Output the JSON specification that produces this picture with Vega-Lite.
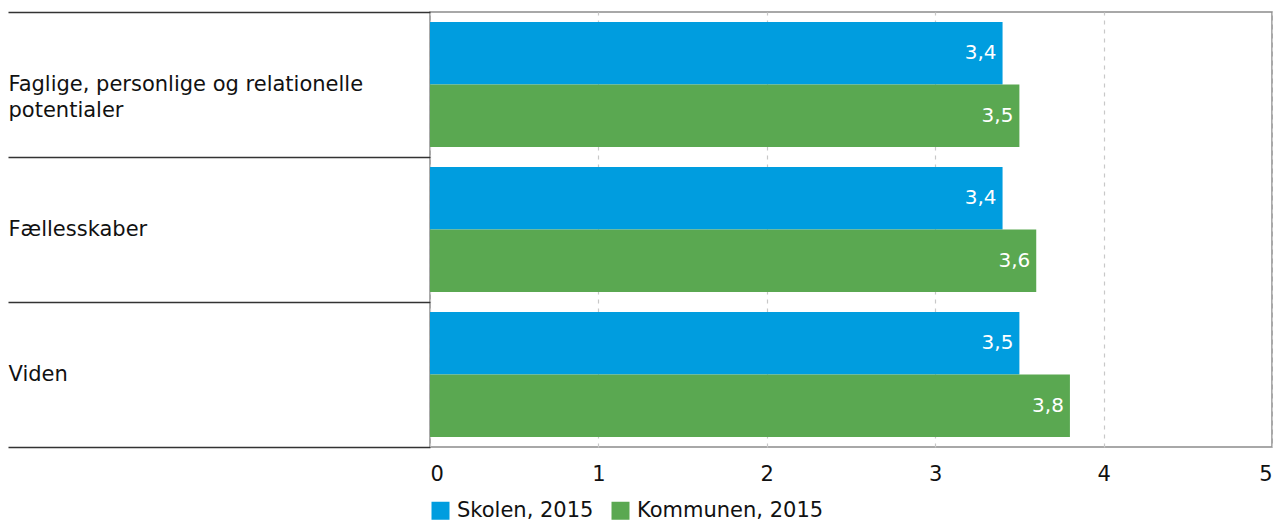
{
  "$schema": "https://vega.github.io/schema/vega-lite/v6.json",
  "width": 842,
  "height": 435,
  "autosize": {"type": "none"},
  "padding": {"left": 430, "top": 12, "right": 1, "bottom": 76},
  "background": "white",
  "title": {
    "text": "3.1.1 Samlet status på kommunale mål- og indsatsområder, skoleniveau",
    "anchor": "start",
    "frame": "bounds",
    "font": "DejaVu Sans",
    "fontSize": 20,
    "fontWeight": "bold",
    "color": "#0099dc",
    "baseline": "alphabetic",
    "offset": 0
  },
  "config": {
    "locale": {"number": {"decimal": ",", "thousands": ".", "grouping": [3], "currency": ["", " kr."]}},
    "font": "DejaVu Sans",
    "view": {"stroke": "#8c8c8c", "strokeWidth": 1.5}
  },
  "data": {
    "values": [
      {"omraade": "Faglige, personlige og relationelle|potentialer", "serie": "Skolen, 2015", "vaerdi": 3.4},
      {"omraade": "Faglige, personlige og relationelle|potentialer", "serie": "Kommunen, 2015", "vaerdi": 3.5},
      {"omraade": "Fællesskaber", "serie": "Skolen, 2015", "vaerdi": 3.4},
      {"omraade": "Fællesskaber", "serie": "Kommunen, 2015", "vaerdi": 3.6},
      {"omraade": "Viden", "serie": "Skolen, 2015", "vaerdi": 3.5},
      {"omraade": "Viden", "serie": "Kommunen, 2015", "vaerdi": 3.8}
    ]
  },
  "encoding": {
    "y": {
      "field": "omraade",
      "type": "nominal",
      "sort": null,
      "scale": {"paddingInner": 0, "paddingOuter": 0},
      "axis": {
        "title": null,
        "domain": false,
        "tickBand": "extent",
        "tickSize": 422,
        "tickColor": "#333333",
        "tickWidth": 1.5,
        "labelAlign": "left",
        "labelPadding": 0,
        "labelBaseline": "middle",
        "labelFontSize": 21,
        "labelLineHeight": 26,
        "labelColor": "#111111",
        "labelLimit": 0,
        "labelExpr": "split(datum.label, '|')"
      }
    },
    "yOffset": {
      "field": "serie",
      "type": "nominal",
      "sort": ["Skolen, 2015", "Kommunen, 2015"],
      "scale": {"paddingInner": 0, "paddingOuter": 0.159}
    },
    "x": {
      "field": "vaerdi",
      "type": "quantitative",
      "scale": {"domain": [0, 5], "nice": false},
      "axis": {
        "title": null,
        "values": [0, 1, 2, 3, 4, 5],
        "grid": true,
        "gridColor": "#c8c8c8",
        "gridDash": [4, 5],
        "gridWidth": 1.2,
        "domain": false,
        "ticks": false,
        "labelPadding": 16,
        "labelFlush": true,
        "labelFontSize": 21,
        "labelColor": "#111111"
      }
    }
  },
  "layer": [
    {
      "mark": {"type": "bar"},
      "encoding": {
        "color": {
          "field": "serie",
          "type": "nominal",
          "sort": ["Skolen, 2015", "Kommunen, 2015"],
          "scale": {"domain": ["Skolen, 2015", "Kommunen, 2015"], "range": ["#009ddf", "#5aa851"]},
          "legend": {
            "title": null,
            "orient": "bottom",
            "direction": "horizontal",
            "symbolType": "square",
            "symbolSize": 324,
            "symbolStrokeWidth": 0,
            "symbolOpacity": 1,
            "labelFontSize": 21,
            "labelColor": "#111111",
            "labelLimit": 400,
            "labelOffset": 6,
            "columnPadding": 16,
            "offset": 16
          }
        }
      }
    },
    {
      "mark": {"type": "text", "align": "right", "baseline": "middle", "dx": -6, "fontSize": 20, "color": "white"},
      "encoding": {
        "text": {"field": "vaerdi", "type": "quantitative", "format": ".1f"}
      }
    }
  ]
}
